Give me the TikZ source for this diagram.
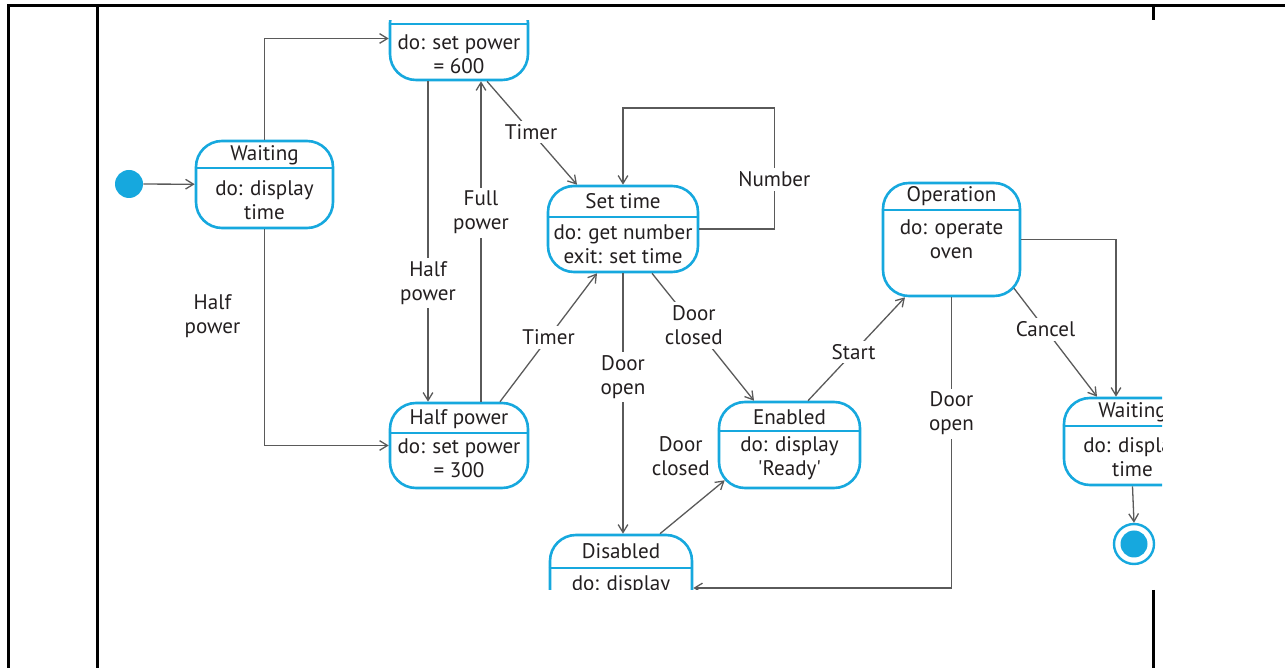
\documentclass[tikz,border=0pt]{standalone}
\usepackage{fontspec}
\setmainfont{PT Sans}
\usetikzlibrary{arrows.meta,calc,positioning}
\definecolor{umlblue}{RGB}{22,168,222}
\definecolor{lnk}{RGB}{90,90,90}
\definecolor{ink}{RGB}{35,31,32}
\newcommand{\px}{0.02cm}
\tikzset{
    stbox/.style={
        draw=umlblue,
        line width=2.6*\px,
        rounded corners=26*\px,
        fill=white,
        inner sep=0pt
    },
    stdiv/.style={draw=umlblue, line width=1.5*\px},
    sttext/.style={
        text=ink,
        align=center,
        font={\fontsize{12}{13.6}\selectfont},
        inner sep=0pt
    },
    tr/.style={draw=lnk, line width=1.3*\px, -{Straight Barb[length=4.5pt,width=5.5pt]}},
    lbl/.style={sttext, fill=white, inner sep=2pt},
    rule/.style={draw=black, line width=3*\px},
}

\begin{document}
\begin{tikzpicture}[x=\px, y=-\px]
\useasboundingbox (0,0) rectangle (1285,668);

% table rules
\draw[rule] (8,668) -- (8,6) -- (1285,6);
\draw[rule] (97,6) -- (97,668);
\draw[rule] (1153,6) -- (1153,20);
\draw[rule] (1153,590) -- (1153,668);

\begin{scope}
\clip (97,21) rectangle (1162,590);

% states
\foreach \n/\cx/\cy/\bw/\bh/\dv/\ty/\by/\nm/\bd in {
    waitA/264.5/184.5/137/87/168/155/200/Waiting/{do: display\\time},
    fullp/459/38.5/138/83/24/10/54/Full power/{do: set power\\= 600},
    settime/623/229/150/86/217/201/244/Set time/{do: get number\\exit: set time},
    halfp/459/445.5/138/85/433/419/458/Half power/{do: set power\\= 300},
    enabled/789.5/445/141/86/431/417/458/Enabled/{do: display\\\textquotesingle Ready\textquotesingle},
    oper/951.5/239.5/137/113/210/196/239/Operation/{do: operate\\oven},
    disabled/621/578.5/142/87/568/551/597/Disabled/{do: display\\\textquotesingle Waiting\textquotesingle},
    waitB/1132.5/441.5/137/87/426/412/457.5/Waiting/{do: display\\time}}
{
  \node[stbox, minimum width=\bw*\px, minimum height=\bh*\px] (\n) at (\cx,\cy) {};
  \coordinate (\n-dv) at (\cx,\dv);
  \draw[stdiv] (\n.west |- \n-dv) -- (\n.east |- \n-dv);
  \node[sttext] (\n-name) at (\cx,\ty) {\nm};
  \node[sttext] (\n-body) at (\cx,\by) {\bd};
}

% pseudo states
\node[circle, fill=umlblue, minimum size=28*\px, inner sep=0pt] (init) at (129,184) {};
\node[circle, draw=umlblue, line width=2.4*\px, minimum size=40*\px, inner sep=0pt] (final) at (1134,544) {};
\node[circle, fill=umlblue, minimum size=27*\px, inner sep=0pt] (final-dot) at (final) {};

% transitions
\draw[tr] (init) -- (waitA);
\draw[tr] (waitA.north) |- (fullp.west);
\draw[tr] (waitA.south) |- node[sttext, pos=0.2, xshift=-52*\px] {Half\\power} (halfp.west);

\draw[tr] ($(fullp.south)+(-31,0)$) -- node[lbl, pos=0.63] {Half\\power} ($(halfp.north)+(-31,0)$);
\draw[tr] ($(halfp.north)+(22,0)$) -- node[lbl, pos=0.59] {Full\\power} ($(fullp.south)+(22,0)$);
\draw[tr] ($(fullp.south)+(28,0)$) -- node[lbl, pos=0.49] {Timer} ($(settime.north)+(-46,0)$);
\draw[tr] ($(halfp.north)+(41,0)$) -- node[lbl, pos=0.5] {Timer} ($(settime.south)+(-26,0)$);

\draw[tr] (settime.east) -- ++(75,0) -- node[lbl, pos=0.41] {Number} ++(0,-121) -| (settime.north);
\draw[tr] (settime.south) -- node[lbl, pos=0.4] {Door\\open} (settime.south |- disabled.north);
\draw[tr] ($(settime.south)+(29,0)$) -- node[lbl, pos=0.41] {Door\\closed} ($(enabled.north)+(-35.5,0)$);
\draw[tr] ($(disabled.north)+(39,0)$) -- node[sttext, at end, xshift=-44*\px, yshift=24*\px] {Door\\closed} ($(enabled.south west)+(7,-9)$);

\draw[tr] ($(enabled.north)+(18.5,0)$) -- node[lbl, pos=0.47] {Start} ($(oper.south)+(-46.5,0)$);
\draw[tr] ($(oper.south)+(62.5,-9)$) -- node[lbl, pos=0.38] {Cancel} ($(waitB.north)+(-35.5,0)$);
\draw[tr] (oper.east) -| ($(waitB.north)+(-16.5,0)$);
\draw[tr] (oper.south) |- node[lbl, pos=0.2] {Door\\open} ($(disabled.east)+(0,9.5)$);
\draw[tr] (waitB.south) -- (final.north);

\end{scope}
\end{tikzpicture}
\end{document}
